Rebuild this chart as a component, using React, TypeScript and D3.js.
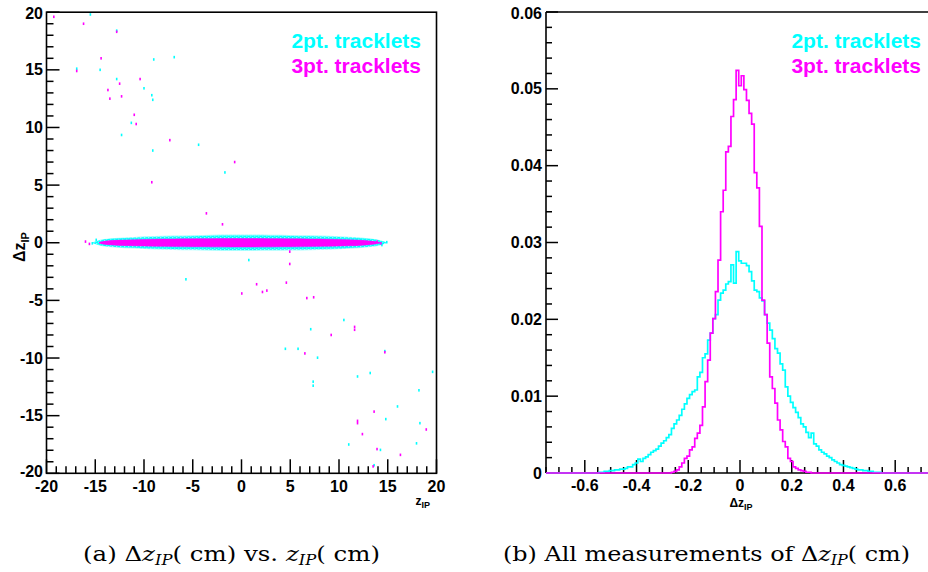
import React from "react";
import * as d3 from "d3";

const WIDTH = 928;
const HEIGHT = 572;
const CYAN = "#00ffff";
const MAGENTA = "#ff00ff";
const SANS = "'Liberation Sans', Arial, Helvetica, sans-serif";
const SERIF = "'DejaVu Serif', 'Liberation Serif', serif";

// ---------- left panel : Δz_IP vs z_IP ----------
const leftMajorTicks = [-20, -15, -10, -5, 0, 5, 10, 15, 20];

// dense band envelope (half-width of the band around Δz = 0)
const band2ptZ = [-15.2, -14.5, -13, -11, -9, -7, -5, -3, -1, 1, 3, 5, 7, 9, 11, 13, 14.2, 14.8];
const band2ptHalf = [0.05, 0.22, 0.36, 0.44, 0.5, 0.54, 0.57, 0.6, 0.62, 0.62, 0.61, 0.59, 0.56, 0.52, 0.45, 0.34, 0.2, 0.05];
const band3ptZ = [-14.6, -14, -12.5, -11, -9, -7, -5, -3, -1, 1, 3, 5, 7, 9, 11, 12.5, 13.6, 14.2];
const band3ptHalf = [0.05, 0.15, 0.23, 0.27, 0.3, 0.32, 0.34, 0.35, 0.36, 0.36, 0.35, 0.34, 0.32, 0.3, 0.27, 0.21, 0.13, 0.05];

// sparse outliers [z_IP, Δz_IP]
const outliers2pt: [number, number][] = [
  [-15.5, 19.8], [-12.8, 18.4], [-16.9, 15.1], [-14.5, 15.0], [-12.8, 14.2], [-10.0, 13.4],
  [-9.0, 15.9], [-6.9, 16.1], [-9.2, 12.8], [-9.1, 12.4], [-11.3, 10.4], [-12.3, 9.35],
  [-4.4, 8.5], [-9.1, 8.0], [-1.7, 6.1], [0.75, -1.5], [-5.7, -3.17], [10.5, -6.7],
  [7.1, -7.5], [4.5, -9.2], [5.8, -9.2], [7.8, -9.97], [14.7, -9.4], [11.9, -11.6],
  [13.2, -11.3], [19.6, -11.2], [7.35, -12.05], [7.35, -12.4], [18.2, -12.8], [16.0, -14.2],
  [14.8, -15.3], [18.3, -15.65], [11.0, -17.5], [17.95, -17.4], [14.25, -17.97], [13.6, -19.3],
  [-15.3, -0.05], [14.9, 0.05], [-14.9, 0.25], [14.4, -0.2],
];
const outliers3pt: [number, number][] = [
  [-19.25, 19.6], [-16.2, 19.0], [-12.8, 18.3], [-16.9, 14.9], [-14.4, 16.0], [-12.5, 13.8],
  [-13.7, 13.25], [-13.5, 12.5], [-12.3, 12.7], [-10.4, 14.2], [-11.0, 11.1], [-10.8, 10.3],
  [-7.35, 8.9], [-0.7, 7.0], [-9.2, 5.25], [-3.6, 2.55], [-1.95, 1.6], [4.95, -0.77],
  [4.95, -1.84], [1.55, -3.6], [0.03, -4.4], [2.15, -4.27], [2.6, -4.15], [4.6, -3.46],
  [6.7, -4.8], [7.4, -4.73], [11.6, -7.3], [11.6, -7.55], [9.2, -8.0], [6.5, -9.6],
  [14.7, -9.5], [13.6, -14.65], [11.9, -15.45], [11.9, -15.65], [18.95, -16.2], [12.4, -16.6],
  [13.9, -17.9], [16.3, -18.4], [13.5, -19.4],
  [-16.0, 0.1], [-15.6, -0.1], [13.9, 0.1], [14.3, -0.05],
];

// ---------- right panel : histogram of Δz_IP ----------
const rightXMajorTicks = [-0.6, -0.4, -0.2, 0, 0.2, 0.4, 0.6];
const rightXTickLabels = ["-0.6", "-0.4", "-0.2", "0", "0.2", "0.4", "0.6"];
const rightYMajorTicks = [0, 0.01, 0.02, 0.03, 0.04, 0.05, 0.06];
const rightYTickLabels = ["0", "0.01", "0.02", "0.03", "0.04", "0.05", "0.06"];
const binWidth = 0.01;

const hist2ptStart = -0.54; // centre of first listed bin
const hist2pt = [
  0.0001, 0.0001, 0.0002, 0.0002, 0.0003, 0.0003, 0.0004, 0.0004, 0.0005, 0.0005,
  0.0006, 0.0008, 0.0008, 0.0011, 0.0013, 0.0018, 0.0015, 0.0019, 0.0021, 0.0024,
  0.0027, 0.0029, 0.0031, 0.0035, 0.0039, 0.0042, 0.0046, 0.0050, 0.0058, 0.0064,
  0.0069, 0.0075, 0.0083, 0.0090, 0.0097, 0.0102, 0.0106, 0.0108, 0.0125, 0.0131,
  0.0150, 0.0155, 0.0173, 0.0182, 0.0201, 0.0206, 0.0225, 0.0234, 0.0238, 0.0246,
  0.0249, 0.0271, 0.0247, 0.0288, 0.0276, 0.0273, 0.0273, 0.0270, 0.0262, 0.0250,
  0.0238, 0.0236, 0.0228, 0.0224, 0.0206, 0.0195, 0.0186, 0.0175, 0.0162, 0.0156,
  0.0142, 0.0134, 0.0112, 0.0100, 0.0092, 0.0085, 0.0079, 0.0072, 0.0064, 0.0060,
  0.0053, 0.0046, 0.0052, 0.0038, 0.0035, 0.0030, 0.0027, 0.0025, 0.0022, 0.0020,
  0.0017, 0.0015, 0.0013, 0.0011, 0.0010, 0.0009, 0.0008, 0.0007, 0.0006, 0.0005,
  0.0004, 0.0004, 0.0003, 0.0003, 0.0002, 0.0002, 0.0001, 0.0001, 0.0001,
];

const hist3ptStart = -0.26;
const hist3pt = [
  0.0001, 0.0002, 0.0004, 0.0008, 0.0013, 0.0019, 0.0022, 0.0030, 0.0034, 0.0045,
  0.0052, 0.0062, 0.0086, 0.0119, 0.0147, 0.0182, 0.0201, 0.0236, 0.0277, 0.0340,
  0.0368, 0.0418, 0.0425, 0.0464, 0.0486, 0.0524, 0.0504, 0.0517, 0.0499, 0.0485,
  0.0468, 0.0454, 0.0391, 0.0371, 0.0321, 0.0225, 0.0206, 0.0169, 0.0125, 0.0110,
  0.0091, 0.0069, 0.0056, 0.0041, 0.0034, 0.0019, 0.0015, 0.0008, 0.0006, 0.0004,
  0.0003, 0.0002, 0.0001, 0.0001,
];

const legendLabels = ["2pt. tracklets", "3pt. tracklets"];
const legendColors = [CYAN, MAGENTA];

// ---------- geometry ----------
const xL = d3.scaleLinear().domain([-20, 20]).range([46.5, 436.5]);
const yL = d3.scaleLinear().domain([-20, 20]).range([473.3, 12.2]);
const xR = d3.scaleLinear().domain([-0.75, 0.75]).range([546, 934]);
const yR = d3.scaleLinear().domain([0, 0.06]).range([473, 12]);

function stepPath(start: number, values: number[]) {
  const p = d3.path();
  const [d0, d1] = xR.domain();
  p.moveTo(xR(d0), yR(0));
  const first = start - binWidth / 2;
  p.lineTo(xR(first), yR(0));
  values.forEach((v, i) => {
    const a = first + i * binWidth;
    p.lineTo(xR(a), yR(v));
    p.lineTo(xR(a + binWidth), yR(v));
  });
  const end = first + values.length * binWidth;
  p.lineTo(xR(end), yR(0));
  p.lineTo(xR(d1), yR(0));
  return p.toString();
}

function bandPath(zs: number[], half: number[], scale: number) {
  const pts = zs.map((z, i) => ({ z, h: half[i] * scale }));
  return d3
    .area<{ z: number; h: number }>()
    .x((d) => xL(d.z))
    .y0((d) => yL(-d.h))
    .y1((d) => yL(d.h))
    .curve(d3.curveMonotoneX)(pts) as string;
}

const tickStroke = { stroke: "#000", strokeWidth: 1.5 };

export default function App() {
  const leftMinor = d3.range(-20, 20.5, 1);
  const rightXMinor = d3.range(-0.75, 0.7501, 0.05);
  const rightYMinor = d3.range(0, 0.0601, 0.002);
  const isMajor = (v: number, step: number) => Math.abs(v / step - Math.round(v / step)) < 1e-6;

  return (
    <svg
      width={WIDTH}
      height={HEIGHT}
      viewBox={`0 0 ${WIDTH} ${HEIGHT}`}
      style={{ position: "absolute", left: 0, top: 0, background: "#fff" }}
    >
      <defs>
        <pattern id="speckle" width={4} height={3} patternUnits="userSpaceOnUse">
          <rect x={0} y={0} width={1.3} height={1.3} fill="#fff" />
          <rect x={2.2} y={1.6} width={1.1} height={1.1} fill="#fff" />
        </pattern>
        <clipPath id="rclip">
          <rect x={xR(-0.75) - 2} y={0} width={WIDTH} height={yR(0) + 2} />
        </clipPath>
      </defs>
      <rect x={0} y={0} width={WIDTH} height={HEIGHT} fill="#fff" />

      {/* ================= LEFT PANEL ================= */}
      <g>
        {/* band */}
        <path d={bandPath(band2ptZ, band2ptHalf, 1.15)} fill={CYAN} opacity={0.4} />
        <path d={bandPath(band2ptZ, band2ptHalf, 1)} fill={CYAN} />
        <path d={bandPath(band2ptZ, band2ptHalf, 1.15)} fill="url(#speckle)" opacity={0.55} />
        <path d={bandPath(band3ptZ, band3ptHalf, 1.15)} fill={MAGENTA} opacity={0.5} />
        <path d={bandPath(band3ptZ, band3ptHalf, 1)} fill={MAGENTA} />
        {/* outliers */}
        {outliers2pt.map(([z, dz], i) => (
          <rect key={"c" + i} x={xL(z) - 0.8} y={yL(dz) - 1.3} width={1.6} height={2.6} fill={CYAN} />
        ))}
        {outliers3pt.map(([z, dz], i) => (
          <rect key={"m" + i} x={xL(z) - 0.8} y={yL(dz) - 1.3} width={1.6} height={2.6} fill={MAGENTA} />
        ))}

        {/* frame */}
        <rect
          x={xL(-20)}
          y={yL(20)}
          width={xL(20) - xL(-20)}
          height={yL(-20) - yL(20)}
          fill="none"
          stroke="#000"
          strokeWidth={1.6}
        />
        {/* y ticks */}
        {leftMinor.map((v) => (
          <line key={"ly" + v} x1={xL(-20)} x2={xL(-20) + (isMajor(v, 5) ? 13 : 7)} y1={yL(v)} y2={yL(v)} {...tickStroke} />
        ))}
        {/* x ticks */}
        {leftMinor.map((v) => (
          <line key={"lx" + v} x1={xL(v)} x2={xL(v)} y1={yL(-20)} y2={yL(-20) - (isMajor(v, 5) ? 14 : 7)} {...tickStroke} />
        ))}
        {leftMajorTicks.map((v) => (
          <text
            key={"lyl" + v}
            x={43}
            y={yL(v) + (v === -20 ? 3.5 : v === 20 ? 7 : 5.6)}
            textAnchor="end"
            fontFamily={SANS}
            fontWeight="bold"
            fontSize={16}
          >
            {String(v)}
          </text>
        ))}
        {leftMajorTicks.map((v) => (
          <text key={"lxl" + v} x={xL(v)} y={492} textAnchor="middle" fontFamily={SANS} fontWeight="bold" fontSize={16}>
            {String(v)}
          </text>
        ))}
        {/* axis titles */}
        <text transform="translate(25,247) rotate(-90)" textAnchor="middle" fontFamily={SANS} fontWeight="bold" fontSize={16}>
          Δz<tspan fontSize={11} dy={4}>IP</tspan>
        </text>
        <text x={430} y={505} textAnchor="end" fontFamily={SANS} fontWeight="bold" fontSize={12}>
          z<tspan fontSize={9} dy={3}>IP</tspan>
        </text>
        {/* legend */}
        {legendLabels.map((t, i) => (
          <text key={"ll" + i} x={421} y={48 + i * 25} textAnchor="end" fontFamily={SANS} fontWeight="bold" fontSize={21} fill={legendColors[i]}>
            {t}
          </text>
        ))}
      </g>

      {/* ================= RIGHT PANEL ================= */}
      <g>
        {/* frame */}
        <line x1={xR(-0.75)} x2={xR(0.75)} y1={yR(0.06)} y2={yR(0.06)} stroke="#000" strokeWidth={1.6} />
        <line x1={xR(-0.75)} x2={xR(-0.75)} y1={yR(0.06)} y2={yR(0)} stroke="#000" strokeWidth={1.6} />
        <line x1={xR(-0.75)} x2={xR(0.75)} y1={yR(0)} y2={yR(0)} stroke="#000" strokeWidth={1.6} />
        {rightYMinor.map((v, i) => (
          <line key={"ry" + i} x1={xR(-0.75)} x2={xR(-0.75) + (isMajor(v, 0.01) ? 12 : 6)} y1={yR(v)} y2={yR(v)} {...tickStroke} />
        ))}
        {rightXMinor.map((v, i) => (
          <line key={"rx" + i} x1={xR(v)} x2={xR(v)} y1={yR(0)} y2={yR(0) - (isMajor(v, 0.2) ? 13 : 6)} {...tickStroke} />
        ))}
        {rightYMajorTicks.map((v, i) => (
          <text
            key={"ryl" + i}
            x={542}
            y={yR(v) + (v === 0.06 ? 6.5 : 5.6)}
            textAnchor="end"
            fontFamily={SANS}
            fontWeight="bold"
            fontSize={16}
          >
            {rightYTickLabels[i]}
          </text>
        ))}
        {rightXMajorTicks.map((v, i) => (
          <text key={"rxl" + i} x={xR(v)} y={491} textAnchor="middle" fontFamily={SANS} fontWeight="bold" fontSize={16}>
            {rightXTickLabels[i]}
          </text>
        ))}
        <text x={741} y={507} textAnchor="middle" fontFamily={SANS} fontWeight="bold" fontSize={12}>
          Δz<tspan fontSize={9} dy={3}>IP</tspan>
        </text>
        {/* histograms */}
        <g clipPath="url(#rclip)">
          <path d={stepPath(hist2ptStart, hist2pt)} fill="none" stroke={CYAN} strokeWidth={1.7} />
          <path d={stepPath(hist3ptStart, hist3pt)} fill="none" stroke={MAGENTA} strokeWidth={1.7} />
        </g>
        {legendLabels.map((t, i) => (
          <text key={"rl" + i} x={921} y={48 + i * 25} textAnchor="end" fontFamily={SANS} fontWeight="bold" fontSize={21} fill={legendColors[i]}>
            {t}
          </text>
        ))}
      </g>

      {/* ================= CAPTIONS ================= */}
      <text x={83} y={561} fontFamily={SERIF} fontSize={21} fill="#000" textLength={297} lengthAdjust="spacingAndGlyphs">
        (a) Δ<tspan fontStyle="italic">z</tspan>
        <tspan fontStyle="italic" fontSize={14} dy={4}>IP</tspan>
        <tspan dy={-4}>(</tspan> cm) vs. <tspan fontStyle="italic">z</tspan>
        <tspan fontStyle="italic" fontSize={14} dy={4}>IP</tspan>
        <tspan dy={-4}>(</tspan> cm)
      </text>
      <text x={503} y={561} fontFamily={SERIF} fontSize={21} fill="#000" textLength={407} lengthAdjust="spacingAndGlyphs">
        (b) All measurements of Δ<tspan fontStyle="italic">z</tspan>
        <tspan fontStyle="italic" fontSize={14} dy={4}>IP</tspan>
        <tspan dy={-4}>(</tspan> cm)
      </text>
    </svg>
  );
}
